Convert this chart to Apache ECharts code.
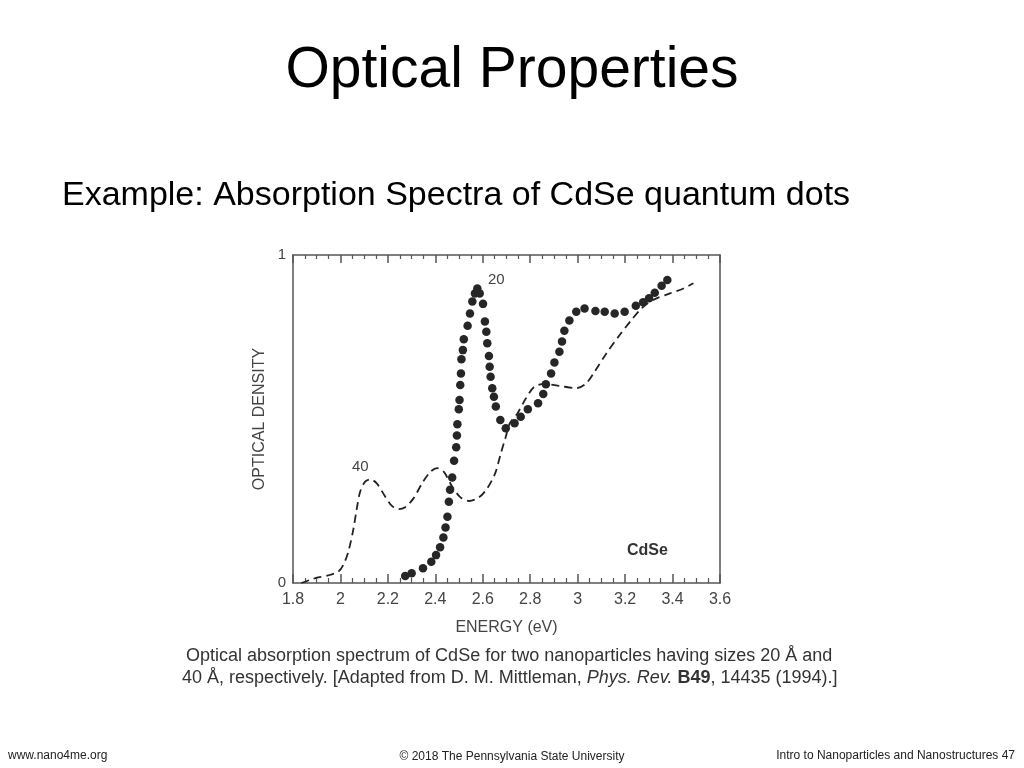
<!DOCTYPE html>
<html>
<head>
<meta charset="utf-8">
<title>Optical Properties</title>
<script src="https://cdn.jsdelivr.net/npm/echarts@6/dist/echarts.min.js"></script>
<style>
    html, body { margin: 0; padding: 0; background: #fff; }
    #chart { width: 1024px; height: 768px; }
</style>
</head>
<body>
<div id="chart"></div>
<script>
    // energy (eV) / optical density, 20 Å particles (dots)
    var dots20 = [
        [2.273, 0.021], [2.300, 0.030], [2.348, 0.045], [2.383, 0.065], [2.403, 0.085],
        [2.420, 0.109], [2.434, 0.139], [2.443, 0.169], [2.451, 0.202], [2.457, 0.248],
        [2.462, 0.284], [2.471, 0.322], [2.479, 0.373], [2.488, 0.414], [2.491, 0.450],
        [2.493, 0.484], [2.499, 0.530], [2.502, 0.558], [2.505, 0.604], [2.508, 0.639],
        [2.510, 0.682], [2.516, 0.710], [2.520, 0.743], [2.536, 0.784], [2.546, 0.822],
        [2.556, 0.858], [2.567, 0.883], [2.577, 0.898], [2.587, 0.883], [2.601, 0.851],
        [2.609, 0.797], [2.615, 0.766], [2.619, 0.731], [2.626, 0.692], [2.629, 0.659],
        [2.633, 0.629], [2.640, 0.594], [2.647, 0.568], [2.655, 0.538], [2.674, 0.497],
        [2.697, 0.472], [2.734, 0.487], [2.760, 0.507], [2.790, 0.530], [2.833, 0.548],
        [2.855, 0.576], [2.866, 0.606], [2.888, 0.639], [2.902, 0.672], [2.923, 0.705],
        [2.934, 0.736], [2.944, 0.769], [2.965, 0.800], [2.994, 0.827], [3.029, 0.837],
        [3.075, 0.829], [3.114, 0.827], [3.156, 0.822], [3.198, 0.827], [3.245, 0.845],
        [3.276, 0.856], [3.301, 0.868], [3.325, 0.885], [3.354, 0.906], [3.378, 0.924]
    ];

    // 40 Å particles (dashed)
    var dash40 = [
        [1.835, 0.000], [1.870, 0.009], [1.906, 0.017], [1.948, 0.023], [1.991, 0.035],
        [2.012, 0.055], [2.033, 0.095], [2.054, 0.162], [2.068, 0.223], [2.083, 0.278],
        [2.104, 0.309], [2.125, 0.316], [2.153, 0.304], [2.189, 0.263], [2.217, 0.235],
        [2.245, 0.225], [2.273, 0.231], [2.308, 0.258], [2.344, 0.304], [2.379, 0.339],
        [2.407, 0.350], [2.436, 0.339], [2.471, 0.294], [2.506, 0.261], [2.542, 0.250],
        [2.584, 0.261], [2.619, 0.289], [2.652, 0.334], [2.676, 0.395], [2.697, 0.446],
        [2.714, 0.487], [2.746, 0.517], [2.782, 0.563], [2.817, 0.598], [2.859, 0.607],
        [2.923, 0.601], [2.994, 0.594], [3.036, 0.609], [3.071, 0.644], [3.121, 0.700],
        [3.177, 0.756], [3.227, 0.802], [3.269, 0.837], [3.318, 0.863], [3.389, 0.883],
        [3.446, 0.898], [3.488, 0.914]
    ];

    var energyMin = 1.8;
    var energyMax = 3.6;
    var energyStep = 0.2;
    var densityTicks = [0, 1];

    var axisColor = '#555';
    var inkColor = '#262626';
    var font = 'Liberation Sans, Arial, sans-serif';

    var chart = echarts.init(document.getElementById('chart'));

    var option = {
        backgroundColor: '#fff',
        animation: false,
        grid: {
            left: 293,
            right: 304,
            top: 255,
            bottom: 185
        },
        xAxis: [
            {
                type: 'value',
                position: 'bottom',
                min: energyMin,
                max: energyMax,
                interval: energyStep,
                axisLine: { show: true, onZero: false, lineStyle: { color: axisColor, width: 1.5 } },
                axisTick: { show: true, inside: true, length: 9, lineStyle: { color: axisColor, width: 1.5 } },
                minorTick: { show: true, splitNumber: 4, length: 5, lineStyle: { color: axisColor, width: 1.2 } },
                splitLine: { show: false },
                axisLabel: {
                    color: '#444',
                    fontFamily: font,
                    fontSize: 16,
                    margin: 9,
                    formatter: function (v) {
                        return String(parseFloat(v.toFixed(1)));
                    }
                },
                name: 'ENERGY (eV)',
                nameLocation: 'middle',
                nameGap: 37,
                nameTextStyle: { color: '#444', fontFamily: font, fontSize: 16 }
            },
            {
                type: 'value',
                position: 'top',
                min: energyMin,
                max: energyMax,
                interval: energyStep,
                axisLine: { show: true, onZero: false, lineStyle: { color: axisColor, width: 1.5 } },
                axisTick: { show: true, inside: true, length: 8, lineStyle: { color: axisColor, width: 1.5 } },
                minorTick: { show: true, splitNumber: 4, length: 4, lineStyle: { color: axisColor, width: 1.2 } },
                splitLine: { show: false },
                axisLabel: { show: false }
            }
        ],
        yAxis: [
            {
                type: 'value',
                position: 'left',
                min: densityTicks[0],
                max: densityTicks[1],
                interval: 1,
                axisLine: { show: true, onZero: false, lineStyle: { color: axisColor, width: 1.5 } },
                axisTick: { show: false },
                splitLine: { show: false },
                axisLabel: { color: '#444', fontFamily: font, fontSize: 15, margin: 7 },
                name: 'OPTICAL DENSITY',
                nameLocation: 'middle',
                nameGap: 25,
                nameTextStyle: { color: '#444', fontFamily: font, fontSize: 16 }
            },
            {
                type: 'value',
                position: 'right',
                min: 0,
                max: 1,
                axisLine: { show: true, onZero: false, lineStyle: { color: axisColor, width: 1.5 } },
                axisTick: { show: false },
                splitLine: { show: false },
                axisLabel: { show: false }
            }
        ],
        series: [
            {
                name: '40',
                type: 'line',
                data: dash40,
                smooth: 0.3,
                showSymbol: false,
                lineStyle: { color: '#222', width: 1.8, type: [8, 5] },
                z: 2
            },
            {
                name: '20',
                type: 'scatter',
                data: dots20,
                symbol: 'circle',
                symbolSize: 8.5,
                itemStyle: { color: inkColor, opacity: 1 },
                z: 3
            }
        ],
        graphic: [
            { type: 'text', left: 'center', top: 43, style: { text: 'Optical Properties', font: '57px ' + font, fill: '#000' } },
            { type: 'text', left: 62, top: 179, style: { text: 'Example: Absorption Spectra of CdSe quantum dots', font: '34px ' + font, fill: '#000' } },
            { type: 'text', left: 488, top: 272, style: { text: '20', font: '15px ' + font, fill: '#444' } },
            { type: 'text', left: 352, top: 459, style: { text: '40', font: '15px ' + font, fill: '#444' } },
            { type: 'text', left: 627, top: 543, style: { text: 'CdSe', font: 'bold 16px ' + font, fill: '#333' } },
            { type: 'text', left: 186, top: 647, style: { text: 'Optical absorption spectrum of CdSe for two nanoparticles having sizes 20\u00a0Å and', font: '18px ' + font, fill: '#333' } },
            {
                type: 'text', left: 182, top: 669,
                style: {
                    text: '40\u00a0Å, respectively. [Adapted from D. M. Mittleman, {i|Phys. Rev.} {b|B49}, 14435 (1994).]',
                    font: '18px ' + font,
                    fill: '#333',
                    rich: {
                        i: { fontStyle: 'italic', fontSize: 18, fontFamily: font, fill: '#333' },
                        b: { fontWeight: 'bold', fontSize: 18, fontFamily: font, fill: '#333' }
                    }
                }
            },
            { type: 'text', left: 8, top: 750, style: { text: 'www.nano4me.org', font: '12px ' + font, fill: '#222' } },
            { type: 'text', left: 'center', top: 751, style: { text: '© 2018 The Pennsylvania State University', font: '12px ' + font, fill: '#222' } },
            { type: 'text', right: 9, top: 750, style: { text: 'Intro to Nanoparticles and Nanostructures 47', font: '12px ' + font, fill: '#222' } }
        ]
    };

    chart.setOption(option);
</script>
</body>
</html>
